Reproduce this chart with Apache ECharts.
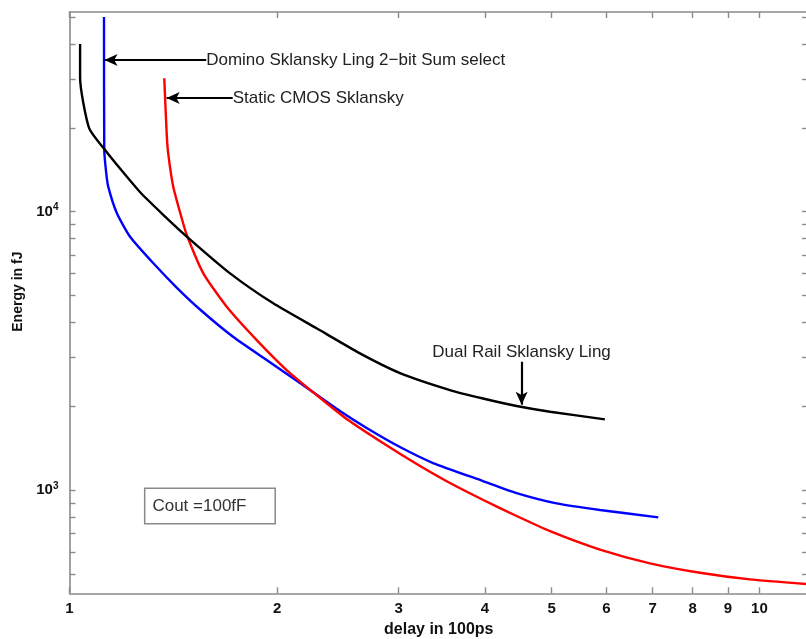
<!DOCTYPE html>
<html>
<head>
<meta charset="utf-8">
<script src="https://cdn.jsdelivr.net/npm/echarts@6/dist/echarts.min.js"></script>
<style>html,body{margin:0;padding:0;background:#fff}#c{width:806px;height:639px}</style>
</head>
<body>
<div id="c"></div>
<script>
// ---- data (delay in 100ps, energy in fJ) ----
const dualRailX = [1.036, 1.036, 1.068, 1.126, 1.192, 1.265, 1.366, 1.479, 1.709, 1.974, 2.281, 2.636, 3.013, 3.560, 3.975, 4.447, 4.971, 5.971];
const dualRailY = [40000, 30200, 19900, 16650, 13990, 11770, 9771, 8146, 6010, 4690, 3815, 3102, 2636, 2291, 2136, 2008, 1915, 1798];

const dominoX = [1.122, 1.123, 1.130, 1.138, 1.171, 1.224, 1.323, 1.430, 1.546, 1.726, 1.931, 2.158, 2.466, 2.696, 3.013, 3.365, 3.975, 4.447, 5.083, 5.873, 7.135];
const dominoY = [50000, 16650, 13880, 12300, 9890, 8130, 6530, 5344, 4457, 3557, 2935, 2427, 1926, 1674, 1430, 1253, 1080, 978, 898, 850, 800];

const staticX = [1.372, 1.383, 1.390, 1.414, 1.454, 1.479, 1.563, 1.690, 1.868, 2.064, 2.281, 2.522, 2.850, 3.186, 3.560, 3.979, 4.447, 4.971, 5.873, 6.940, 8.200, 9.687, 11.68];
const staticY = [30120, 19160, 16240, 12270, 9493, 8250, 6010, 4560, 3462, 2703, 2198, 1803, 1475, 1243, 1062, 923, 809, 714, 613, 547, 506, 479, 461];

const xTickValues = [1, 2, 3, 4, 5, 6, 7, 8, 9, 10];
const yTickValues = [500, 600, 700, 800, 900, 1000, 2000, 3000, 4000, 5000, 6000, 7000, 8000, 9000, 10000, 20000, 30000, 40000, 50000];
const yLabelValues = [1000, 10000];

const xName = 'delay in 100ps';
const yName = 'Energy in fJ';

// annotations (data coordinates)
const dominoText = 'Domino Sklansky Ling 2\u2212bit Sum select';
const dominoTextAt = [1.578, 35030];
const dominoArrow = [[1.578, 35030], [1.124, 35030]];

const staticText = 'Static CMOS Sklansky';
const staticTextAt = [1.724, 25590];
const staticArrow = [[1.724, 25590], [1.383, 25590]];

const dualText = 'Dual Rail Sklansky Ling';
const dualTextAt = [4.52, 3136];
const dualArrow = [[4.522, 2894], [4.522, 2030]];

const coutText = 'Cout =100fF';
const coutAt = [1.598, 878];

// ---- chart ----
const FONT = 'Liberation Sans, Helvetica, Arial, sans-serif';
const AX = '#8a8a8a';
const zip = (xs, ys) => xs.map((x, i) => [x, ys[i]]);

function arrowLine(pts) {
  return {
    silent: true,
    symbol: ['none', 'arrow'],
    symbolSize: [9, 13],
    label: { show: false },
    lineStyle: { color: '#000', width: 2.2, type: 'solid' },
    emphasis: { disabled: true },
    data: [[{ coord: pts[0] }, { coord: pts[1] }]]
  };
}
function textPoint(text, at, position, extra) {
  return {
    silent: true,
    symbol: 'circle',
    symbolSize: 0,
    data: [{
      coord: at,
      value: 0,
      label: Object.assign({
        show: true,
        position: position,
        distance: 0,
        formatter: text,
        color: '#222',
        fontFamily: FONT,
        fontSize: 17
      }, extra || {})
    }]
  };
}

const yFmt = v => {
  const e = Math.round(Math.log10(v));
  return '{b|10}{s|' + e + '}';
};

const xAxisBase = {
  type: 'log',
  logBase: 10,
  min: 1,
  max: 11.76,
  splitLine: { show: false },
  axisLine: { show: true, lineStyle: { color: AX, width: 1.6 } },
  axisTick: { show: true, inside: true, length: 6, customValues: xTickValues, lineStyle: { color: AX, width: 1.4 } },
  minorTick: { show: false }
};
const yAxisBase = {
  type: 'log',
  logBase: 10,
  min: 427,
  max: 52100,
  splitLine: { show: false },
  axisLine: { show: true, lineStyle: { color: AX, width: 1.6 } },
  axisTick: { show: true, inside: true, length: 6, customValues: yTickValues, lineStyle: { color: AX, width: 1.4 } },
  minorTick: { show: false }
};

const option = {
  animation: false,
  backgroundColor: '#fff',
  grid: { left: 69.5, top: 12, width: 738.5, height: 581.3, containLabel: false, outerBoundsMode: 'none' },
  xAxis: [
    Object.assign({}, xAxisBase, {
      position: 'bottom',
      name: xName,
      nameLocation: 'middle',
      nameGap: 26,
      nameTextStyle: { fontFamily: FONT, fontWeight: 'bold', fontSize: 16, color: '#111' },
      axisLabel: { show: true, customValues: xTickValues, formatter: v => String(Math.round(v)), fontFamily: FONT, fontWeight: 'bold', fontSize: 15, color: '#111', margin: 8 }
    }),
    Object.assign({}, xAxisBase, { position: 'top', axisLabel: { show: false } })
  ],
  yAxis: [
    Object.assign({}, yAxisBase, {
      position: 'left',
      name: yName,
      nameLocation: 'middle',
      nameGap: 38,
      nameTextStyle: { fontFamily: FONT, fontWeight: 'bold', fontSize: 14, color: '#111', padding: [0, 0, 0, 22] },
      axisLabel: {
        show: true,
        customValues: yLabelValues,
        formatter: yFmt,
        margin: 11,
        rich: {
          b: { fontFamily: FONT, fontWeight: 'bold', fontSize: 15, color: '#111', lineHeight: 18 },
          s: { fontFamily: FONT, fontWeight: 'bold', fontSize: 10, color: '#111', verticalAlign: 'top', lineHeight: 12 }
        }
      }
    }),
    Object.assign({}, yAxisBase, { position: 'right', axisLabel: { show: false } })
  ],
  series: [
    {
      name: 'Dual Rail Sklansky Ling',
      type: 'line',
      xAxisIndex: 0, yAxisIndex: 0,
      data: zip(dualRailX, dualRailY),
      showSymbol: false,
      smooth: 0.2,
      lineStyle: { color: '#000000', width: 2.4 },
      itemStyle: { color: '#000' },
      z: 3,
      markLine: arrowLine(dualArrow),
      markPoint: textPoint(dualText, dualTextAt, 'inside')
    },
    {
      name: 'Domino Sklansky Ling 2-bit Sum select',
      type: 'line',
      xAxisIndex: 0, yAxisIndex: 0,
      data: zip(dominoX, dominoY),
      showSymbol: false,
      smooth: 0.2,
      lineStyle: { color: '#0000ff', width: 2.4 },
      itemStyle: { color: '#0000ff' },
      z: 2,
      markLine: arrowLine(dominoArrow),
      markPoint: textPoint(dominoText, dominoTextAt, 'right')
    },
    {
      name: 'Static CMOS Sklansky',
      type: 'line',
      xAxisIndex: 0, yAxisIndex: 0,
      data: zip(staticX, staticY),
      showSymbol: false,
      smooth: 0.2,
      lineStyle: { color: '#ff0000', width: 2.4 },
      itemStyle: { color: '#ff0000' },
      z: 2,
      markLine: arrowLine(staticArrow),
      markPoint: textPoint(staticText, staticTextAt, 'right')
    },
    {
      name: 'note',
      type: 'line',
      xAxisIndex: 0, yAxisIndex: 0,
      data: [],
      markPoint: textPoint(coutText, coutAt, 'inside', {
        color: '#333',
        borderColor: '#8a8a8a',
        borderWidth: 1.5,
        backgroundColor: '#fff',
        lineHeight: 18,
        padding: [8, 28, 8, 7]
      })
    }
  ]
};

const chart = echarts.init(document.getElementById('c'), null, { renderer: 'canvas' });
chart.setOption(option);
</script>
</body>
</html>
